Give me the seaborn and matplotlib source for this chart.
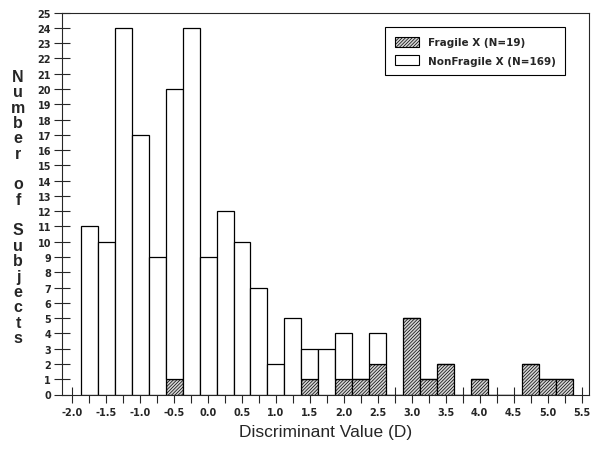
import numpy as np
import pandas as pd
import matplotlib
matplotlib.use("Agg")
import matplotlib.pyplot as plt
import seaborn as sns
from matplotlib.patches import Patch

# bin centres (width 0.25) and counts per group
centres = [-1.75, -1.5, -1.25, -1.0, -0.75, -0.5, -0.25, 0.0, 0.25, 0.5,
           0.75, 1.0, 1.25, 1.5, 1.75, 2.0, 2.25, 2.5, 2.75, 3.0,
           3.25, 3.5, 3.75, 4.0, 4.25, 4.5, 4.75, 5.0, 5.25]
nonfragile = [11, 10, 24, 17, 9, 19, 24, 9, 12, 10,
              7, 2, 5, 2, 3, 3, 0, 2, 0, 0,
              0, 0, 0, 0, 0, 0, 0, 0, 0]
fragile = [0, 0, 0, 0, 0, 1, 0, 0, 0, 0,
           0, 0, 0, 1, 0, 1, 1, 2, 0, 5,
           1, 2, 0, 1, 0, 0, 2, 1, 1]
groups = ["Fragile X (N=19)", "NonFragile X (N=169)"]
xticks = [-2.0, -1.5, -1.0, -0.5, 0.0, 0.5, 1.0, 1.5, 2.0, 2.5, 3.0,
          3.5, 4.0, 4.5, 5.0, 5.5]

df = pd.DataFrame({
    "D": centres * 2,
    "n": fragile + nonfragile,
    "group": [groups[0]] * len(centres) + [groups[1]] * len(centres),
})

HATCH = "/" * 10
HATCH_BG = "#d4d4d4"

sns.set_style("ticks")
plt.rcParams["font.family"] = ["Liberation Sans", "DejaVu Sans"]
plt.rcParams["hatch.linewidth"] = 0.5

fig = plt.figure(figsize=(6.04, 4.52), dpi=100)
ax = fig.add_axes([0.103, 0.125, 0.872, 0.845])

# stacked: fragile at the bottom, nonfragile on top
sns.histplot(data=df, x="D", weights="n", hue="group", hue_order=groups[::-1],
             binwidth=0.25, binrange=(-1.875, 5.375), multiple="stack",
             palette={groups[0]: "#888888", groups[1]: "#ffffff"},
             edgecolor="black", linewidth=0.9, alpha=1, ax=ax, legend=False)

# hatch the fragile bars
for p in ax.patches:
    fc = p.get_facecolor()
    if abs(fc[0] - 0x88 / 255) < 0.01:
        p.set_facecolor(HATCH_BG)
        p.set_hatch(HATCH)

# legend
tick_font = {"family": "DejaVu Sans", "weight": "bold", "size": 7}
handles = [Patch(facecolor=HATCH_BG, edgecolor="black", hatch=HATCH, linewidth=0.8),
           Patch(facecolor="white", edgecolor="black", linewidth=0.8)]
leg = ax.legend(handles, groups, loc="upper right", bbox_to_anchor=(0.965, 0.975),
                fancybox=False, framealpha=1, edgecolor="black",
                prop={"family": "DejaVu Sans", "weight": "bold", "size": 7.5},
                handlelength=2.3, handleheight=1.1, borderpad=0.9,
                labelspacing=0.75, handletextpad=0.9)
leg.get_frame().set_linewidth(0.8)

ax.set_xlim(-2.147, 5.607)
ax.set_ylim(0, 25)
ax.set_xticks(xticks)
ax.set_xticks(np.arange(-2.0, 5.51, 0.25), minor=True)
ax.set_xticklabels([f"{v:.1f}" for v in xticks], fontdict=tick_font)
ax.set_yticks(range(0, 26))
ax.set_yticklabels([str(v) for v in range(0, 26)], fontdict=tick_font)
ax.tick_params(axis="both", direction="inout", length=12, width=0.8, pad=2)
ax.tick_params(axis="x", which="minor", direction="inout", length=12, width=0.8)
ax.tick_params(axis="x", which="major", length=12, pad=3)
for s in ax.spines.values():
    s.set_linewidth(0.8)

ax.set_xlabel("Discriminant Value (D)", fontsize=12.5, labelpad=5)
ax.set_ylabel("")
ylab = "Number\n\nof\n\nSubjects"
ylab = "\n".join(" " if c == "\n" else c for c in ylab.replace("\n\n", "\n"))
fig.text(0.03, 0.54, ylab, ha="center", va="center", fontsize=11.5,
         fontweight="bold", linespacing=1.03)

fig.savefig("out.png", dpi=100)
